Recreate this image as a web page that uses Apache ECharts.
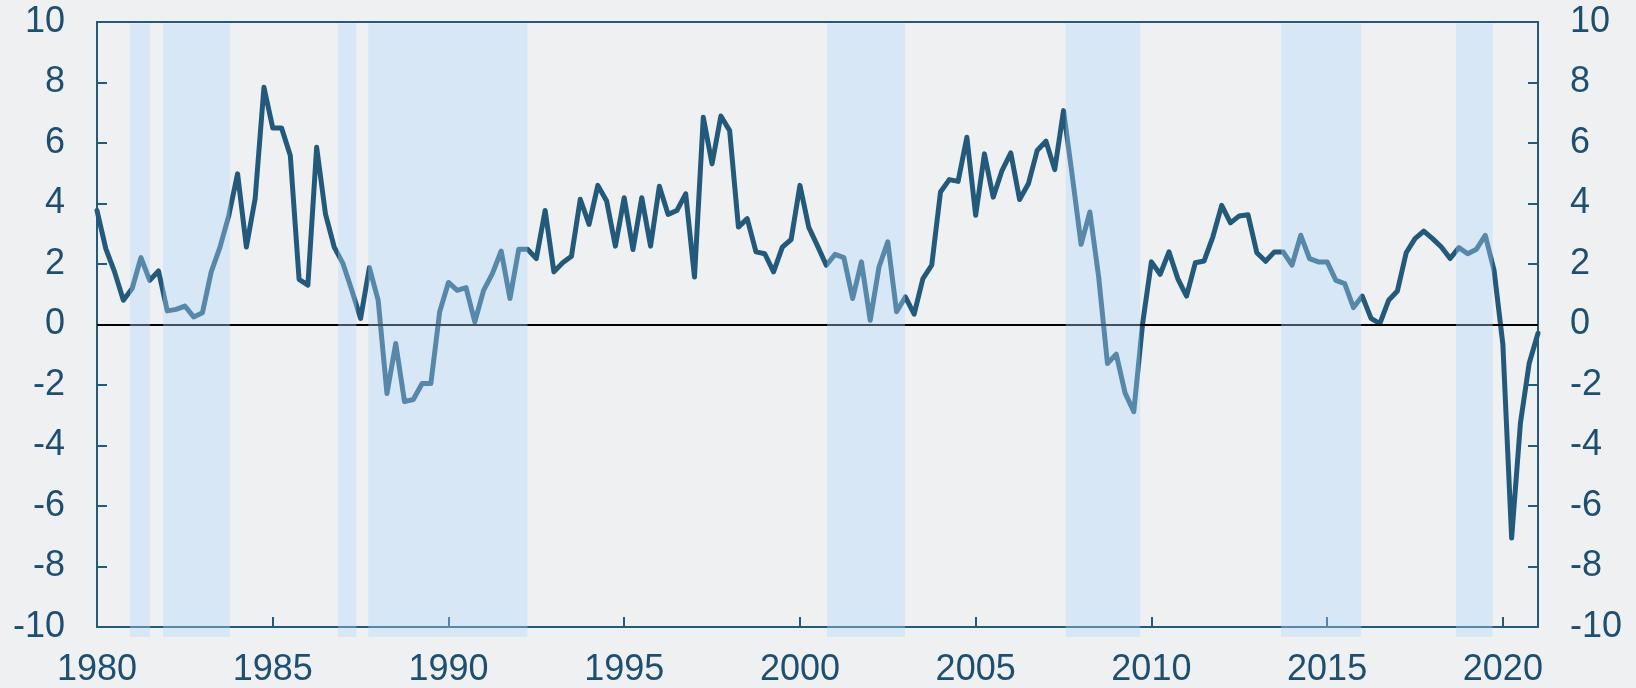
<!DOCTYPE html>
<html>
<head>
<meta charset="utf-8">
<script src="https://cdn.jsdelivr.net/npm/echarts@6/dist/echarts.min.js"></script>
<style>
  html, body { margin: 0; padding: 0; background: #eff0f2; }
  #chart { width: 1636px; height: 688px; }
</style>
</head>
<body>
<div id="chart"></div>
<script>
// quarterly values, first point = 1980Q1
const startYear = 1980
const values1980s = [3.77, 2.51, 1.74, 0.80, 1.19, 2.21, 1.46, 1.77, 0.45, 0.50,
  0.61, 0.25, 0.39, 1.74, 2.56, 3.6, 4.98, 2.56, 4.16, 7.84,
  6.5, 6.5, 5.59, 1.49, 1.30, 5.86, 3.66, 2.56, 2.01, 1.13,
  0.2, 1.88, 0.80, -2.28, -0.63, -2.55, -2.48, -1.95, -1.95, 0.42]
const values1990s = [1.39, 1.13, 1.22, 0.09, 1.13, 1.68, 2.43, 0.86, 2.49, 2.49,
  2.18, 3.77, 1.74, 2.04, 2.26, 4.14, 3.31, 4.60, 4.08, 2.59,
  4.19, 2.48, 4.19, 2.59, 4.57, 3.64, 3.77, 4.32, 1.57, 6.85,
  5.31, 6.89, 6.41, 3.22, 3.50, 2.40, 2.34, 1.74, 2.56, 2.81]
const values2000s = [4.60, 3.22, 2.6, 1.96, 2.32, 2.21, 0.86, 2.07, 0.14, 1.90,
  2.73, 0.42, 0.91, 0.34, 1.52, 1.96, 4.38, 4.79, 4.73, 6.19,
  3.61, 5.64, 4.21, 5.09, 5.67, 4.13, 4.65, 5.75, 6.06, 5.12,
  7.07, 4.9, 2.65, 3.72, 1.57, -1.29, -0.98, -2.26, -2.88, 0.03]
const values2010s = [2.07, 1.66, 2.40, 1.52, 0.94, 2.04, 2.10, 2.9, 3.94, 3.36,
  3.59, 3.63, 2.37, 2.09, 2.40, 2.40, 1.96, 2.95, 2.18, 2.07,
  2.07, 1.46, 1.35, 0.56, 0.94, 0.20, 0.03, 0.80, 1.11, 2.37,
  2.84, 3.09, 2.84, 2.56, 2.18, 2.54, 2.34, 2.49, 2.95, 1.79]
const values2020s = [-0.65, -7.06, -3.26, -1.28, -0.29]

// shaded periods [from, to] in years
const bands = [
  [1980.94, 1981.51],
  [1981.88, 1983.78],
  [1986.86, 1987.38],
  [1987.72, 1992.25],
  [2000.77, 2002.99],
  [2007.56, 2009.68],
  [2013.69, 2015.97],
  [2018.67, 2019.71]
]

const yTicks = { min: -10, max: 10, step: 2 }

const values = [...values1980s, ...values1990s, ...values2000s, ...values2010s, ...values2020s]
const points = values.map((v, i) => [startYear + i / 4, v])

const textColor = '#1e4f6f'
const axisColor = '#245a7a'
const fontFamily = '"Liberation Sans", Arial, sans-serif'

const chart = echarts.init(document.getElementById('chart'))

const yAxisBase = {
  type: 'value',
  min: yTicks.min,
  max: yTicks.max,
  interval: yTicks.step,
  axisLine: { show: true, lineStyle: { color: axisColor, width: 2 } },
  axisTick: { show: true, inside: true, length: 10, lineStyle: { color: axisColor, width: 2 } },
  splitLine: { show: false },
  axisLabel: { color: textColor, fontSize: 36, fontFamily: fontFamily, margin: 32 }
}

const option = {
  backgroundColor: '#eff0f2',
  animation: false,
  grid: {
    left: 97,
    right: 98,
    top: 22,
    bottom: 60,
    show: true,
    borderColor: axisColor,
    borderWidth: 2,
    backgroundColor: 'transparent'
  },
  xAxis: {
    type: 'value',
    min: 1980,
    max: 2021,
    interval: 5,
    axisLine: { show: true, onZero: false, lineStyle: { color: axisColor, width: 2 } },
    axisTick: { show: true, inside: true, length: 10, lineStyle: { color: axisColor, width: 2 } },
    splitLine: { show: false },
    axisLabel: {
      color: textColor,
      fontSize: 36,
      fontFamily: fontFamily,
      margin: 25,
      showMaxLabel: false,
      formatter: v => String(v)
    }
  },
  yAxis: [
    { ...yAxisBase, position: 'left' },
    { ...yAxisBase, position: 'right' }
  ],
  series: [
    {
      type: 'line',
      data: points,
      showSymbol: false,
      symbol: 'none',
      lineStyle: { color: '#235a7b', width: 5, join: 'round', cap: 'round' },
      markLine: {
        silent: true,
        symbol: 'none',
        label: { show: false },
        lineStyle: { color: '#000', width: 2, type: 'solid' },
        data: [{ yAxis: 0 }]
      }
    },
    {
      // shaded periods, drawn over the line
      type: 'custom',
      z: 10,
      silent: true,
      clip: false,
      data: bands,
      renderItem: (params, api) => {
        const p1 = api.coord([api.value(0), 9.95])
        const p2 = api.coord([api.value(1), -10.33])
        return {
          type: 'rect',
          shape: { x: p1[0], y: p1[1], width: p2[0] - p1[0], height: p2[1] - p1[1] },
          style: { fill: 'rgba(175, 218, 250, 0.37)' }
        }
      }
    }
  ]
}

chart.setOption(option)
</script>
</body>
</html>
